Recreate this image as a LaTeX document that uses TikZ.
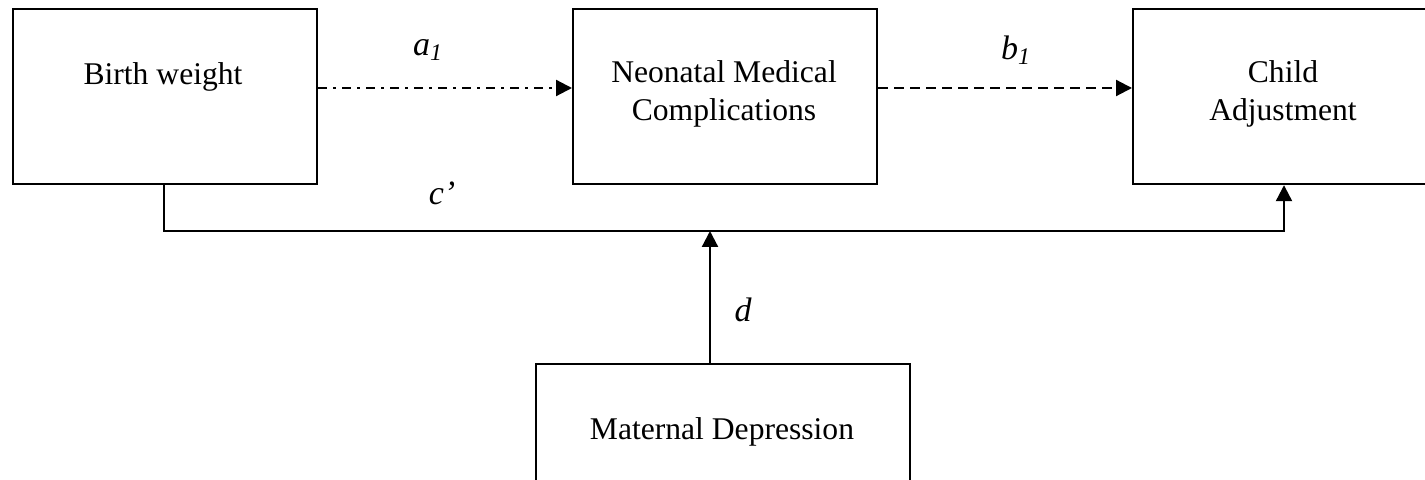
\documentclass[tikz,border=0pt]{standalone}
\usepackage{fontspec}
\setmainfont{Liberation Serif}
\usetikzlibrary{arrows.meta}
\begin{document}
\begin{tikzpicture}[x=0.5pt,y=-0.5pt,
  boxline/.style={draw=black,line width=1.1pt},
  txt/.style={inner sep=0pt,align=center,font=\fontsize{15.8}{19}\selectfont},
  lbl/.style={inner sep=0pt,font=\fontsize{17}{20}\selectfont\itshape},
  conn/.style={line width=1.1pt,-{Triangle[length=8pt,width=8pt]}},
  dashdot/.style={dash pattern=on 4.5pt off 3pt on 1.5pt off 3pt},
  dashline/.style={dash pattern=on 5pt off 3pt}]
\useasboundingbox (0,0) rectangle (1425,480);
% boxes
\node[boxline,rectangle,minimum width=152pt,minimum height=87.5pt,anchor=north west] (bw) at (12,8) {};
\node[boxline,rectangle,minimum width=152pt,minimum height=87.5pt,anchor=north west] (nm) at (572,8) {};
\node[boxline,rectangle,minimum width=152pt,minimum height=87.5pt,anchor=north west] (ca) at (1132,8) {};
\node[boxline,rectangle,minimum width=187pt,minimum height=70pt,anchor=north west] (md) at (535,363) {};
% texts
\node[txt] (bwt) at (163,77) {Birth weight};
\node[txt] (nmt) at (724,94) {Neonatal Medical\\Complications};
\node[txt] (cat) at (1283,94) {Child\\Adjustment};
\node[txt] (mdt) at (722,432) {Maternal Depression};
% connectors
\coordinate (jl) at (164,231);
\coordinate (jr) at (1284,231);
\coordinate (jm) at (710,231);
\draw[conn,dashdot] (bw.east |- 0,88) -- (nm.west |- 0,88);
\draw[conn,dashline] (nm.east |- 0,88) -- (ca.west |- 0,88);
\draw[conn] (bw.south -| jl) -- (jl) -- (jr) -- (ca.south -| jr);
\draw[conn] (md.north -| jm) -- (jm);
% labels
\node[lbl] (la) at (428,50) {a\textsubscript{1}};
\node[lbl] (lb) at (1016,50) {b\textsubscript{1}};
\node[lbl] (lc) at (442,193) {c’};
\node[lbl] (ld) at (743,310) {d};
\end{tikzpicture}
\end{document}
